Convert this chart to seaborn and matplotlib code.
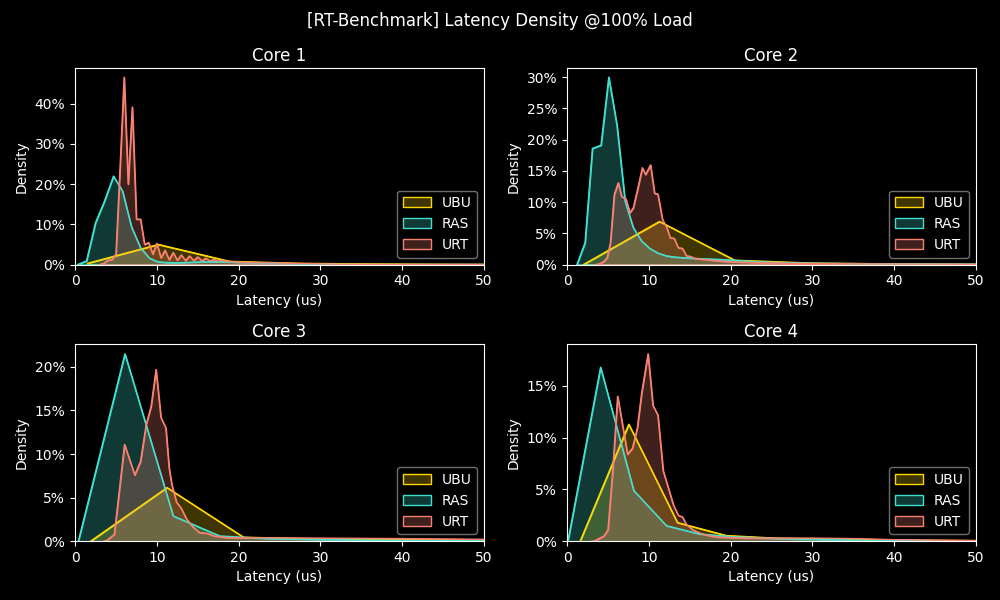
import matplotlib
matplotlib.use("Agg")
import matplotlib.pyplot as plt
from matplotlib.ticker import PercentFormatter
import seaborn as sns
import pandas as pd

# ---------------- data (density values in percent) ----------------
series_names = ["UBU", "RAS", "URT"]
core_titles = ["Core 1", "Core 2", "Core 3", "Core 4"]

c1_ubu_x = [1.5, 10.2, 18.9, 27.6, 36.3, 45.0, 53.7]
c1_ubu_y = [0.3, 5.0, 0.8, 0.3, 0.15, 0.08, 0.04]
c1_ras_x = [0.3, 1.4, 2.5, 3.6, 4.7, 5.8, 6.9, 8.0, 9.1, 10.1, 11.2, 12.3, 13.4, 14.5,
            15.6, 16.7, 17.8, 18.9, 20.0, 22.0, 25.0, 28.0, 31.0, 40.0, 52.0]
c1_ras_y = [0.0, 0.9, 10.4, 15.8, 22.0, 18.3, 9.4, 4.2, 1.6, 0.7, 0.5, 0.45, 0.5, 0.6,
            0.7, 0.7, 0.7, 0.65, 0.55, 0.4, 0.25, 0.1, 0.03, 0.01, 0.0]
c1_urt_x = [3.0, 3.5, 4.0, 4.5, 5.0, 5.5, 6.0, 6.5, 7.0, 7.5, 8.0, 8.5, 9.0, 9.5, 10.0,
            10.5, 11.0, 11.5, 12.0, 12.5, 13.0, 13.5, 14.0, 14.5, 15.0, 15.5, 16.0, 16.5,
            17.0, 17.5, 18.0, 18.5, 19.0, 19.5, 20.0, 22.0, 25.0, 28.0, 31.0, 35.0, 40.0, 52.0]
c1_urt_y = [0.0, 0.3, 1.1, 1.2, 2.6, 24.0, 46.6, 20.0, 39.2, 11.3, 11.3, 5.0, 5.5, 2.6, 5.3,
            1.7, 3.6, 1.2, 3.0, 1.1, 2.4, 1.0, 2.15, 1.0, 1.9, 0.95, 1.6, 0.9, 1.3, 0.85,
            1.1, 0.75, 0.8, 0.65, 0.6, 0.5, 0.4, 0.25, 0.1, 0.05, 0.02, 0.0]

c2_ubu_x = [2.0, 11.3, 20.5, 29.7, 38.9, 48.1, 57.3]
c2_ubu_y = [0.0, 6.9, 0.7, 0.25, 0.12, 0.06, 0.03]
c2_ras_x = [1.2, 2.2, 3.1, 4.15, 5.1, 6.1, 7.1, 8.1, 9.1, 10.1, 11.1, 12.15, 13.2, 14.2,
            16.2, 18.3, 20.4, 22.5, 25.0, 30.0, 40.0, 52.0]
c2_ras_y = [0.0, 3.5, 18.6, 19.1, 30.0, 22.3, 10.1, 5.9, 3.8, 2.6, 1.85, 1.4, 1.2, 1.1,
            0.95, 0.85, 0.7, 0.5, 0.35, 0.2, 0.1, 0.05]
c2_urt_x = [3.5, 4.0, 4.5, 4.9, 5.3, 5.77, 6.26, 6.67, 7.2, 7.68, 8.1, 8.7, 9.2, 9.6, 10.2,
            10.7, 11.1, 11.67, 12.2, 12.6, 13.1, 13.6, 14.1, 14.6, 15.1, 15.6, 16.6, 18.3,
            20.0, 22.0, 25.0, 30.0, 40.0, 52.0]
c2_urt_y = [0.0, 0.15, 0.5, 1.1, 3.5, 11.2, 13.1, 10.9, 10.5, 8.3, 9.1, 12.5, 15.5, 14.4,
            15.95, 11.4, 11.3, 7.2, 5.9, 4.3, 4.2, 2.7, 2.6, 1.4, 1.3, 1.0, 0.85, 0.6,
            0.45, 0.35, 0.25, 0.15, 0.08, 0.03]

c3_ubu_x = [1.9, 11.25, 20.6, 29.95, 39.3, 48.65, 58.0]
c3_ubu_y = [0.0, 6.15, 0.46, 0.25, 0.15, 0.08, 0.04]
c3_ras_x = [0.4, 6.1, 12.0, 17.7, 23.5, 29.3, 35.1, 40.9, 46.7, 52.5]
c3_ras_y = [0.0, 21.5, 2.9, 0.6, 0.3, 0.2, 0.12, 0.08, 0.05, 0.03]
c3_urt_x = [3.5, 3.9, 4.8, 6.05, 7.3, 8.0, 8.7, 9.3, 9.9, 10.5, 11.1, 11.5, 11.83, 12.4,
            12.97, 13.6, 14.4, 15.2, 16.2, 17.0, 18.7, 21.9, 30.0, 40.0, 52.0]
c3_urt_y = [0.0, 0.1, 0.8, 11.1, 7.6, 9.15, 13.4, 15.5, 19.7, 14.2, 13.0, 8.4, 6.5, 4.5,
            3.8, 2.6, 1.65, 1.0, 0.9, 0.6, 0.4, 0.4, 0.35, 0.3, 0.2]

c4_ubu_x = [1.6, 7.55, 13.5, 19.45, 25.4, 31.35, 37.3, 43.25, 49.2, 55.15]
c4_ubu_y = [0.0, 11.3, 1.8, 0.55, 0.3, 0.2, 0.15, 0.1, 0.06, 0.03]
c4_ras_x = [0.1, 4.1, 8.15, 12.15, 16.2, 20.2, 24.2, 28.3, 32.3, 36.3, 40.4, 44.4, 48.4, 52.5]
c4_ras_y = [0.0, 16.8, 4.9, 1.5, 0.7, 0.43, 0.3, 0.2, 0.15, 0.1, 0.08, 0.06, 0.04, 0.03]
c4_urt_x = [3.0, 3.4, 4.0, 4.5, 5.0, 5.6, 6.18, 7.4, 8.0, 8.6, 9.1, 9.9, 10.5, 11.1, 11.75,
            12.36, 13.0, 13.6, 14.1, 14.6, 15.4, 16.2, 17.0, 18.3, 21.9, 30.0, 35.0, 40.0,
            45.0, 52.0]
c4_urt_y = [0.0, 0.05, 0.3, 0.5, 1.1, 7.0, 14.0, 8.4, 9.0, 11.0, 14.2, 18.1, 13.1, 12.2,
            6.8, 5.2, 3.5, 2.5, 2.35, 1.6, 1.1, 0.8, 0.6, 0.4, 0.3, 0.3, 0.25, 0.15, 0.1, 0.05]

x_label = "Latency (us)"
y_label = "Density"
suptitle = "[RT-Benchmark] Latency Density @100% Load"

# ---------------- style ----------------
plt.style.use("dark_background")
sns.set_style("dark", {"axes.facecolor": "black", "figure.facecolor": "black",
                       "axes.edgecolor": "white", "text.color": "white",
                       "axes.labelcolor": "white", "xtick.color": "white",
                       "ytick.color": "white", "axes.grid": False,
                       "xtick.bottom": True, "ytick.left": True})
plt.rcParams["font.family"] = ["DejaVu Sans"]

colors = {"UBU": "#FFD700", "RAS": "#40E0D0", "URT": "#FA8072"}

cores = [
    {"UBU": (c1_ubu_x, c1_ubu_y), "RAS": (c1_ras_x, c1_ras_y), "URT": (c1_urt_x, c1_urt_y)},
    {"UBU": (c2_ubu_x, c2_ubu_y), "RAS": (c2_ras_x, c2_ras_y), "URT": (c2_urt_x, c2_urt_y)},
    {"UBU": (c3_ubu_x, c3_ubu_y), "RAS": (c3_ras_x, c3_ras_y), "URT": (c3_urt_x, c3_urt_y)},
    {"UBU": (c4_ubu_x, c4_ubu_y), "RAS": (c4_ras_x, c4_ras_y), "URT": (c4_urt_x, c4_urt_y)},
]

fig, axes = plt.subplots(2, 2, figsize=(10, 6), dpi=100)
fig.patch.set_facecolor("black")

for ax, title, core in zip(axes.flat, core_titles, cores):
    ax.set_facecolor("black")
    for name in series_names:
        xs, ys = core[name]
        df = pd.DataFrame({"x": xs, "y": [v / 100.0 for v in ys]})
        c = colors[name]
        ax.fill_between(df["x"], df["y"], 0, facecolor=matplotlib.colors.to_rgba(c, 0.25),
                        edgecolor=c, linewidth=1.0, label=name)
        sns.lineplot(data=df, x="x", y="y", ax=ax, color=c, linewidth=1.0,
                     legend=False, sort=False)
    ax.set_xlim(0, 50)
    ymax = max(max(v for v in core[n][1]) for n in series_names) / 100.0
    ax.set_ylim(0, ymax * 1.05)
    ax.yaxis.set_major_formatter(PercentFormatter(1.0, decimals=0))
    ax.set_title(title, fontsize=12, color="white", pad=5)
    ax.set_xlabel(x_label, color="white")
    ax.set_ylabel(y_label, color="white")
    for s in ax.spines.values():
        s.set_color("white")
        s.set_visible(True)
    ax.tick_params(colors="white", direction="out", length=3.5, width=0.8)
    leg = ax.legend(loc="lower right", facecolor="black", edgecolor="#888888",
                    framealpha=0.8, fontsize=10)
    for t in leg.get_texts():
        t.set_color("white")

fig.suptitle(suptitle, fontsize=12, color="white", y=0.98)
fig.subplots_adjust(left=0.075, right=0.976, bottom=0.098, top=0.887,
                    hspace=0.406, wspace=0.203)
fig.savefig("out.png", dpi=100, facecolor="black")
